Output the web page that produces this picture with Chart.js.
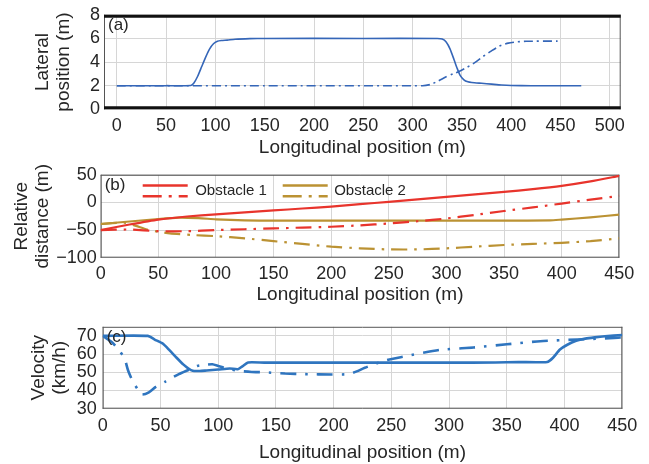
<!DOCTYPE html>
<html>
<head>
<meta charset="utf-8">
<script src="https://cdn.jsdelivr.net/npm/chart.js@4.4.1/dist/chart.umd.min.js"></script>
<style>
  html, body { margin: 0; padding: 0; background: #fff; }
  #wrap { position: relative; width: 649px; height: 464px; }
  .panel { position: absolute; left: 0; }
</style>
</head>
<body>
<div id="wrap">
  <canvas id="chartA" class="panel" style="top:0" width="649" height="160"></canvas>
  <canvas id="chartB" class="panel" style="top:160px" width="649" height="150"></canvas>
  <canvas id="chartC" class="panel" style="top:310px" width="649" height="154"></canvas>
</div>
<script>
// ---------------- (a) lateral position ----------------
const lonA1 = [0, 50, 75, 78, 82, 86, 90, 94, 98, 102, 106, 112, 120, 135, 150, 250, 325, 330, 334, 338, 342, 345, 348, 352, 356, 360, 370, 380, 390, 400, 420, 471];
const latA1 = [2, 2, 2.02, 2.2, 2.8, 3.6, 4.4, 5.1, 5.55, 5.76, 5.82, 5.86, 5.93, 5.98, 6, 6, 6, 5.95, 5.7, 5.1, 4.2, 3.5, 2.9, 2.5, 2.33, 2.27, 2.2, 2.13, 2.06, 2.02, 2, 2];
const lonA2 = [0, 150, 310, 318, 326, 334, 341, 347, 355, 363, 371, 380, 388, 397, 405, 415, 447];
const latA2 = [2, 2, 2, 2.1, 2.4, 2.75, 3.0, 3.2, 3.55, 3.95, 4.45, 4.95, 5.35, 5.6, 5.7, 5.76, 5.77];
const xTicksA = [0, 50, 100, 150, 200, 250, 300, 350, 400, 450, 500];
const yTicksA = [0, 2, 4, 6, 8];

// ---------------- (b) relative distance ----------------
const lonB = [0, 25, 50, 75, 100, 125, 150, 175, 200, 225, 250, 275, 300, 325, 350, 375, 400, 425, 450];
const obs1Solid = [-50, -40, -31, -25.5, -21.5, -18, -14.5, -11, -7.5, -3, 1, 5.5, 10, 14.5, 19, 24, 30, 38, 48];
const obs1Dash = [-50, -49, -52, -52, -50, -48.5, -47, -45.5, -44, -41.5, -38, -34, -29, -22.5, -15.5, -9, -2, 5, 12];
const lonB2s = [0, 25, 50, 68, 85, 100, 125, 150, 200, 250, 300, 350, 390, 400, 425, 450];
const obs2Solid = [-39, -34.5, -30, -27.5, -28.5, -30.5, -32.5, -33, -33, -33, -33, -33, -32.5, -31, -27, -22];
const lonB2d = [0, 20, 30, 40, 50, 60, 80, 100, 125, 150, 175, 200, 225, 250, 275, 300, 325, 350, 375, 400, 425, 450];
const obs2Dash = [-39, -36.5, -42, -49, -53, -56, -59, -61, -65, -70, -75, -80, -83, -85, -85, -83, -80, -77, -75, -73, -70, -65];
const xTicksB = [0, 50, 100, 150, 200, 250, 300, 350, 400, 450];
const yTicksB = [-100, -50, 0, 50];

// ---------------- (c) velocity ----------------
const lonC1 = [0, 39, 45, 52, 58, 64, 70, 74, 78, 84, 90, 100, 110, 117, 121, 126, 140, 200, 250, 300, 340, 360, 385, 390, 396, 402, 410, 418, 426, 435, 450];
const velC1 = [70, 70, 68, 65.8, 62, 58, 54.2, 52.2, 50.8, 50.7, 51, 51.5, 52.1, 51.7, 53.3, 55.4, 55.3, 55.3, 55.3, 55.3, 55.4, 55.6, 55.7, 58, 62.5, 65, 67.3, 68.5, 69.2, 69.8, 70.5];
const lonC2 = [0, 8, 15, 19, 22, 26, 30, 34, 40, 46, 54, 60, 66, 75, 82, 90, 95, 100, 108, 117, 129, 140, 158, 175, 198, 213, 220, 227, 240, 246, 258, 292, 321, 350, 379, 411, 443, 450];
const velC2 = [70, 66.5, 61.4, 57.5, 51, 45, 41, 37.8, 39, 42, 44.8, 47, 49, 51.5, 53.5, 54.2, 54.4, 53.5, 52, 50.8, 50.2, 50, 49.3, 49, 48.8, 49, 50.5, 52.5, 55.5, 56.7, 58.3, 62.3, 63.6, 65.4, 67.1, 68, 68.9, 69.2];
const xTicksC = [0, 50, 100, 150, 200, 250, 300, 350, 400, 450];
const yTicksC = [30, 40, 50, 60, 70];

// ------------------------ estilos comunes ------------------------
const FONT = "'Liberation Sans', Arial, Helvetica, sans-serif";
const textColor = '#262626';
const gridColor = '#d6d6d6';
const blueA = '#3566b8';
const blueC = '#2f75bf';
const red = '#e8342c';
const gold = '#bb9233';
const dashDot = [16, 7, 2.5, 7];

const toXY = (xs, ys) => xs.map((x, i) => ({ x: x, y: ys[i] }));
const minus = v => String(v).replace('-', '\u2212');

// marco del eje + etiqueta (a)/(b)/(c) + leyenda de (b)
const framePlugin = {
  id: 'frame',
  beforeDatasetsDraw(chart, args, opts) {
    const { left, right, top, bottom } = chart.chartArea;
    const ctx = chart.ctx;
    ctx.save();
    ctx.strokeStyle = opts.sideColor || '#555';
    ctx.lineWidth = 1;
    ctx.beginPath();
    ctx.moveTo(left + 0.5, top); ctx.lineTo(left + 0.5, bottom);
    ctx.moveTo(right - 0.5, top); ctx.lineTo(right - 0.5, bottom);
    ctx.stroke();
    ctx.strokeStyle = opts.edgeColor || '#555';
    ctx.lineWidth = opts.edgeWidth || 1;
    const h = ctx.lineWidth / 2;
    ctx.beginPath();
    ctx.moveTo(left, top + h); ctx.lineTo(right, top + h);
    ctx.moveTo(left, bottom - h); ctx.lineTo(right, bottom - h);
    ctx.stroke();
    ctx.restore();
  },
  afterDraw(chart, args, opts) {
    const { left, top } = chart.chartArea;
    const ctx = chart.ctx;
    ctx.save();
    ctx.fillStyle = textColor;
    ctx.font = '17px ' + FONT;
    ctx.textBaseline = 'middle';
    ctx.textAlign = 'left';
    ctx.fillText(opts.tag, left + 4, top + 11);
    if (opts.legend) {
      ctx.font = '15px ' + FONT;
      opts.legend.forEach(item => {
        ctx.strokeStyle = item.color;
        ctx.lineWidth = 2.6;
        ctx.setLineDash([]);
        ctx.beginPath();
        ctx.moveTo(left + item.x0, top + 10.7); ctx.lineTo(left + item.x1, top + 10.7);
        ctx.stroke();
        ctx.setLineDash([19, 7, 3, 7]);
        ctx.beginPath();
        ctx.moveTo(left + item.x0, top + 21.4); ctx.lineTo(left + item.x1, top + 21.4);
        ctx.stroke();
        ctx.setLineDash([]);
        ctx.fillText(item.label, left + item.tx, top + 16);
      });
    }
    ctx.restore();
  }
};

function panelOptions(p) {
  return {
    responsive: false,
    animation: false,
    layout: { padding: { top: p.top, right: p.right, left: 0, bottom: 0 } },
    elements: { point: { radius: 0 }, line: { tension: 0.2, borderCapStyle: 'butt' } },
    plugins: {
      legend: { display: false },
      tooltip: { enabled: false },
      frame: p.frame
    },
    scales: {
      x: {
        type: 'linear',
        min: p.xMin,
        max: p.xMax,
        afterBuildTicks: s => { s.ticks = p.xTicks.map(v => ({ value: v })); },
        afterFit: s => { s.height = p.xHeight; },
        grid: { color: gridColor, drawTicks: false },
        border: { display: false },
        ticks: { autoSkip: false, maxRotation: 0, padding: p.xPad, color: textColor, font: { family: FONT, size: 18 } },
        title: {
          display: true, text: 'Longitudinal position (m)', color: textColor,
          font: { family: FONT, size: 19, lineHeight: 1.0 },
          padding: { top: 0, bottom: p.xTitlePad }
        }
      },
      y: {
        type: 'linear',
        min: p.yMin,
        max: p.yMax,
        afterBuildTicks: s => { s.ticks = p.yTicks.map(v => ({ value: v })); },
        afterFit: s => { s.width = p.left; },
        grid: { color: gridColor, drawTicks: false },
        border: { display: false },
        ticks: { autoSkip: false, padding: p.yPad, color: textColor, font: { family: FONT, size: 18 }, callback: v => minus(v) },
        title: {
          display: true, text: p.yTitle, color: textColor,
          font: { family: FONT, size: 19, lineHeight: 1.1 },
          padding: { top: p.yTitlePad, bottom: 0 }
        }
      }
    }
  };
}

new Chart(document.getElementById('chartA'), {
  type: 'line',
  data: {
    datasets: [
      { data: toXY(lonA1, latA1), borderColor: blueA, borderWidth: 1.6 },
      { data: toXY(lonA2, latA2), borderColor: blueA, borderWidth: 1.6, borderDash: [9, 4, 2, 4] }
    ]
  },
  options: panelOptions({
    top: 11, right: 28.3, left: 104, xHeight: 50.7,
    xMin: -13, xMax: 511, xTicks: xTicksA, xPad: 6, xTitlePad: 3,
    yMin: 0, yMax: 8, yTicks: yTicksA, yPad: 4,
    yTitle: ['Lateral', 'position (m)'], yTitlePad: 32,
    frame: { tag: '(a)', edgeColor: '#111', edgeWidth: 3, sideColor: '#555' }
  }),
  plugins: [framePlugin]
});

new Chart(document.getElementById('chartB'), {
  type: 'line',
  data: {
    datasets: [
      { data: toXY(lonB, obs1Solid), borderColor: red, borderWidth: 2.2 },
      { data: toXY(lonB, obs1Dash), borderColor: red, borderWidth: 2.2, borderDash: dashDot },
      { data: toXY(lonB2s, obs2Solid), borderColor: gold, borderWidth: 2.2 },
      { data: toXY(lonB2d, obs2Dash), borderColor: gold, borderWidth: 2.2, borderDash: dashDot }
    ]
  },
  options: panelOptions({
    top: 14.3, right: 29.7, left: 100.7, xHeight: 52.3,
    xMin: 0, xMax: 450, xTicks: xTicksB, xPad: 6, xTitlePad: 6,
    yMin: -100, yMax: 50, yTicks: yTicksB, yPad: 4,
    yTitle: ['Relative', 'distance (m)'], yTitlePad: 11,
    frame: {
      tag: '(b)', edgeColor: '#555', sideColor: '#555',
      legend: [
        { label: 'Obstacle 1', color: red, x0: 42, x1: 87, tx: 94.5 },
        { label: 'Obstacle 2', color: gold, x0: 182, x1: 227, tx: 233.5 }
      ]
    }
  }),
  plugins: [framePlugin]
});

new Chart(document.getElementById('chartC'), {
  type: 'line',
  data: {
    datasets: [
      { data: toXY(lonC1, velC1), borderColor: blueC, borderWidth: 2.6 },
      { data: toXY(lonC2, velC2), borderColor: blueC, borderWidth: 2.6, borderDash: [16, 9, 2.5, 9] }
    ]
  },
  options: panelOptions({
    top: 12.7, right: 26.7, left: 102.7, xHeight: 55.3,
    xMin: 0, xMax: 450, xTicks: xTicksC, xPad: 7, xTitlePad: 2,
    yMin: 30, yMax: 75, yTicks: yTicksC, yPad: 6,
    yTitle: ['Velocity', '(km/h)'], yTitlePad: 28,
    frame: { tag: '(c)', edgeColor: '#555', sideColor: '#555' }
  }),
  plugins: [framePlugin]
});
</script>
</body>
</html>
